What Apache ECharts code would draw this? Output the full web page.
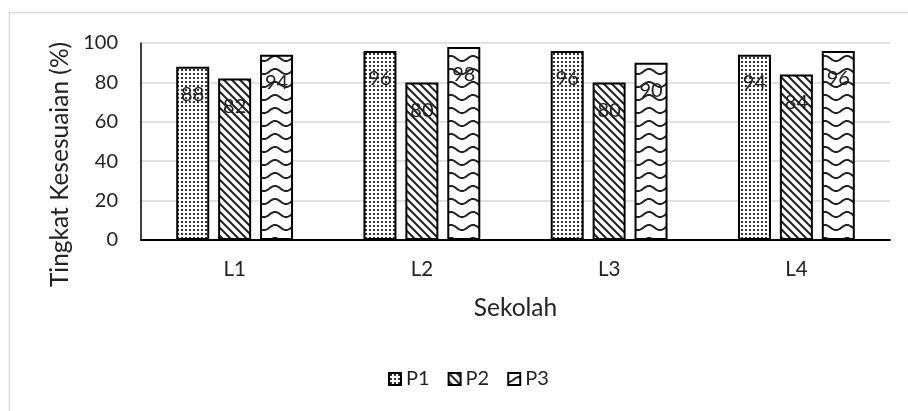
<!DOCTYPE html>
<html><head><meta charset="utf-8">
<script src="https://cdn.jsdelivr.net/npm/echarts@6/dist/echarts.min.js"></script>
<style>html,body{margin:0;padding:0;background:#fff}#c{width:908px;height:411px}</style>
</head><body><div id="c"></div>
<script>
const categories = ['L1','L2','L3','L4'];
const seriesNames = ['P1','P2','P3'];
const valuesP1 = [88, 96, 96, 94];
const valuesP2 = [82, 80, 80, 84];
const valuesP3 = [94, 98, 90, 96];
const yTicks = [0, 20, 40, 60, 80, 100];

function tile(w, h, draw) {
  const c = document.createElement('canvas');
  c.width = w; c.height = h;
  const g = c.getContext('2d');
  g.fillStyle = '#fff'; g.fillRect(0, 0, w, h);
  draw(g, w, h);
  return c;
}
const dots = tile(4, 4, (g) => { g.fillStyle = '#333'; g.fillRect(1, 1, 2, 2); });
const diag = tile(8, 8, (g) => {
  g.strokeStyle = '#222'; g.lineWidth = 2;
  g.beginPath();
  g.moveTo(-8, 0); g.lineTo(8, 16);
  g.moveTo(0, 0); g.lineTo(8, 8);
  g.moveTo(0, -8); g.lineTo(16, 8);
  g.moveTo(-8, -8); g.lineTo(8, 8);
  g.stroke();
});
const wave = tile(22, 13, (g) => {
  g.strokeStyle = '#222'; g.lineWidth = 2;
  g.beginPath();
  for (let x = -1; x <= 23; x += 0.5) {
    const y = 6.5 + 2.6 * Math.cos(x / 22 * Math.PI * 2);
    if (x === -1) g.moveTo(x, y); else g.lineTo(x, y);
  }
  g.stroke();
});
const patterns = [dots, diag, wave];
const data = [valuesP1, valuesP2, valuesP3];

const chart = echarts.init(document.getElementById('c'), null, {renderer: 'canvas'});
const font = 'Lato, "Open Sans", sans-serif';
chart.setOption({
  animation: false,
  textStyle: {fontFamily: font},
  graphic: [{type: 'rect', shape: {x: 9.5, y: 12.5, width: 920, height: 420}, style: {fill: 'none', stroke: '#d9d9d9', lineWidth: 1.5}, silent: true}],
  grid: {left: 141, right: 18, top: 43, bottom: 171, containLabel: false},
  legend: {
    bottom: 17, left: 383, itemWidth: 12, itemHeight: 12, itemGap: 18,
    icon: 'rect',
    textStyle: {fontSize: 20, color: '#222', fontFamily: font, padding: [0,0,0,0]},
    data: seriesNames
  },
  xAxis: {
    type: 'category', data: categories,
    name: 'Sekolah', nameLocation: 'middle', nameGap: 56,
    nameTextStyle: {fontSize: 24.5, color: '#222', fontFamily: font},
    axisLine: {lineStyle: {color: '#000', width: 2}},
    axisTick: {show: false},
    axisLabel: {fontSize: 20.5, color: '#222', margin: 19, fontFamily: font}
  },
  yAxis: {
    type: 'value', min: 0, max: 100, interval: 20,
    name: 'Tingkat Kesesuaian (%)', nameLocation: 'middle', nameGap: 68,
    nameTextStyle: {fontSize: 24.5, color: '#222', fontFamily: font, padding: [0, 46, 0, 0]},
    axisLine: {show: true, lineStyle: {color: '#000', width: 1.5}},
    axisTick: {show: false},
    splitLine: {lineStyle: {color: '#d9d9d9', width: 1.5}},
    axisLabel: {fontSize: 20, color: '#222', margin: 23, fontFamily: font,
      formatter: (v) => yTicks.includes(v) ? String(v) : ''}
  },
  series: seriesNames.map((n, i) => ({
    name: n, type: 'bar', data: data[i],
    barWidth: 33, barGap: '27%', barCategoryGap: '37%',
    itemStyle: {color: {image: patterns[i], repeat: 'repeat'}, borderColor: '#000', borderWidth: 2},
    label: {show: true, position: 'insideTop', distance: 18, fontSize: 20, color: '#222', fontFamily: font}
  }))
});
</script></body></html>
